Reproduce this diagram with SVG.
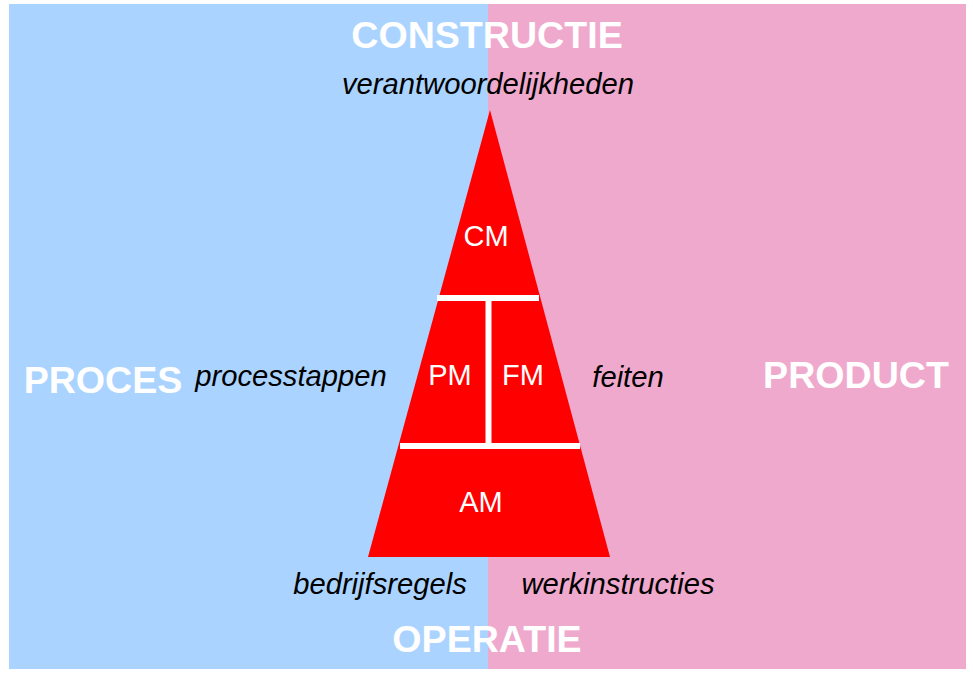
<svg xmlns="http://www.w3.org/2000/svg" width="973" height="685" viewBox="0 0 973 685">
<style>
.big{font-family:"Liberation Sans",Arial,sans-serif;font-weight:bold;font-size:37.6px;fill:#ffffff;text-anchor:middle}
.it{font-family:"Liberation Sans",Arial,sans-serif;font-style:italic;font-size:29.2px;fill:#000000;text-anchor:middle}
.lbl{font-family:"Liberation Sans",Arial,sans-serif;font-size:29px;fill:#ffffff;text-anchor:middle}
.sep{stroke:#ffffff;stroke-width:6;fill:none}
</style>
<rect x="0" y="0" width="973" height="685" fill="#ffffff"/>
<g id="background">
<rect x="9" y="4" width="479" height="665" fill="#aad4ff"/>
<rect x="488" y="4" width="478" height="665" fill="#efa9cd"/>
</g>
<g id="pyramid">
<polygon points="490,110 368,557 610,557" fill="#ff0000"/>
</g>
<g id="connectors">
<line class="sep" x1="437" y1="298" x2="539" y2="298"/>
<line class="sep" x1="400" y1="446" x2="580" y2="446"/>
<line class="sep" x1="488.5" y1="298" x2="488.5" y2="446"/>
</g>
<g id="CM"><text class="lbl" x="486" y="246">CM</text></g>
<g id="PM"><text class="lbl" x="450" y="385">PM</text></g>
<g id="FM"><text class="lbl" x="523" y="385">FM</text></g>
<g id="AM"><text class="lbl" x="481" y="512">AM</text></g>
<g id="constructie">
<text class="big" x="487" y="48">CONSTRUCTIE</text>
<text class="it" x="488" y="94">verantwoordelijkheden</text>
</g>
<g id="proces">
<text class="big" x="103" y="393">PROCES</text>
<text class="it" x="291" y="386">processtappen</text>
</g>
<g id="product">
<text class="big" x="856" y="388">PRODUCT</text>
<text class="it" x="628" y="387">feiten</text>
</g>
<g id="operatie">
<text class="it" x="380" y="594">bedrijfsregels</text>
<text class="it" x="618" y="594">werkinstructies</text>
<text class="big" x="487" y="652">OPERATIE</text>
</g>
</svg>
